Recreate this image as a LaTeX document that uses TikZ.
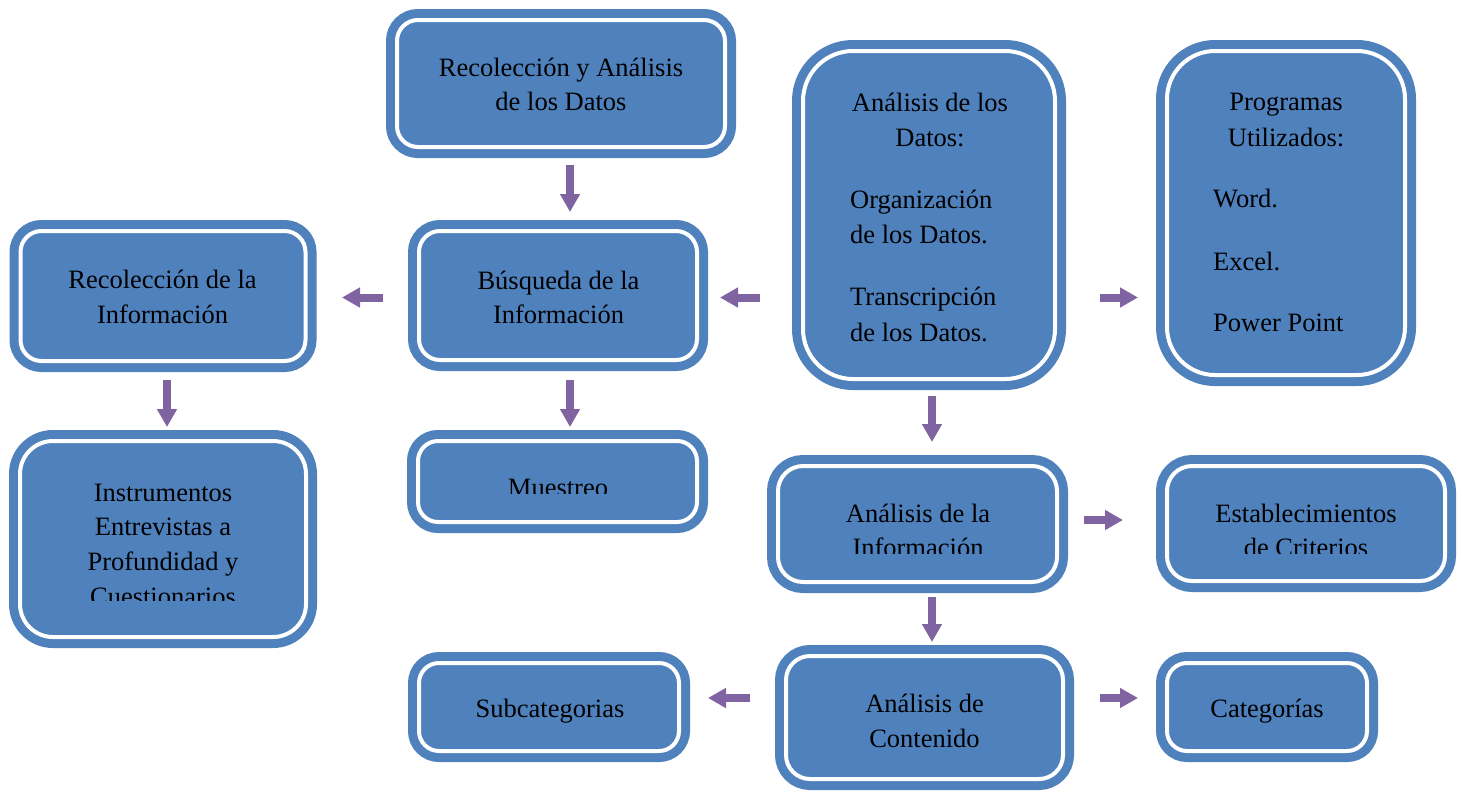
\documentclass[tikz,border=0pt]{standalone}
\usepackage{fontspec}
\setmainfont{Liberation Serif}
\usetikzlibrary{arrows.meta}
\definecolor{boxblue}{HTML}{4F81BD}
\definecolor{arrpurple}{HTML}{8064A2}
\begin{document}
\begin{tikzpicture}[x=1pt,y=-1pt,
  box/.style={rectangle, fill=boxblue, draw=boxblue, line width=9pt, double=white, double distance=4pt, inner sep=0pt, outer sep=0pt},
  txt/.style={anchor=base, font=\fontsize{26.5}{34}\selectfont, text=black, inner sep=0pt},
  arr/.style={draw=arrpurple, line width=8pt, -{Triangle[length=18pt,width=19pt]}}]
\fill[white] (0,0) rectangle (1462,793);
\useasboundingbox (0,0) rectangle (1462,793);

% boxes
\node[box, minimum width=328pt, minimum height=127pt, rounded corners=21pt] (b1) at (561,83.5) {};
\node[box, minimum width=278pt, minimum height=129pt, rounded corners=21pt] (b2) at (558,295.5) {};
\node[box, minimum width=285pt, minimum height=130pt, rounded corners=21pt] (b3) at (163,296) {};
\node[box, minimum width=286pt, minimum height=196pt, rounded corners=33pt] (b4) at (163,539) {};
\node[box, minimum width=279pt, minimum height=81pt, rounded corners=20pt] (b5) at (557.5,481.5) {};
\node[box, minimum width=252pt, minimum height=328pt, rounded corners=50pt] (b6) at (929,215) {};
\node[box, minimum width=238pt, minimum height=324pt, rounded corners=48pt] (b7) at (1286,213) {};
\node[box, minimum width=279pt, minimum height=116pt, rounded corners=25pt] (b8) at (917.5,524) {};
\node[box, minimum width=278pt, minimum height=115pt, rounded corners=25pt] (b9) at (1306,523.5) {};
\node[box, minimum width=277pt, minimum height=123pt, rounded corners=24pt] (b10) at (924.5,717.5) {};
\node[box, minimum width=260pt, minimum height=88pt, rounded corners=20pt] (b11) at (549,707) {};
\node[box, minimum width=200pt, minimum height=88pt, rounded corners=20pt] (b12) at (1267,707) {};

% texts
\node[txt] (t1a) at (561,76) {Recolección y Análisis};
\node[txt] (t1b) at (561,110) {de los Datos};
\node[txt] (t2a) at (558.5,289) {Búsqueda de la};
\node[txt] (t2b) at (558.5,323) {Información};
\node[txt] (t3a) at (162.5,288) {Recolección de la};
\node[txt] (t3b) at (162.5,323) {Información};
\begin{scope}
\clip (20,440) rectangle (306,600);
\node[txt] (t4a) at (163,501) {Instrumentos};
\node[txt] (t4b) at (163,535.5) {Entrevistas a};
\node[txt] (t4c) at (163,570) {Profundidad y};
\node[txt] (t4d) at (163,605) {Cuestionarios};
\end{scope}
\begin{scope}
\clip (420,440) rectangle (696,493);
\node[txt] (t5a) at (558,496) {Muestreo};
\end{scope}
\node[txt] (t6a) at (930,111) {Análisis de los};
\node[txt] (t6b) at (930,146) {Datos:};
\node[txt, anchor=base west] (t6c) at (850,208) {Organización};
\node[txt, anchor=base west] (t6d) at (850,243) {de los Datos.};
\node[txt, anchor=base west] (t6e) at (850,305) {Transcripción};
\node[txt, anchor=base west] (t6f) at (850,341) {de los Datos.};
\node[txt] (t7a) at (1286,110) {Programas};
\node[txt] (t7b) at (1286,146) {Utilizados:};
\node[txt, anchor=base west] (t7c) at (1213,207) {Word.};
\node[txt, anchor=base west] (t7d) at (1213,270) {Excel.};
\node[txt, anchor=base west] (t7e) at (1213,331) {Power Point};
\begin{scope}
\clip (780,465) rectangle (1056,553);
\node[txt] (t8a) at (918,522) {Análisis de la};
\node[txt] (t8b) at (918,556) {Información};
\end{scope}
\begin{scope}
\clip (1168,465) rectangle (1444,553);
\node[txt] (t9a) at (1306,522) {Establecimientos};
\node[txt] (t9b) at (1306,556) {de Criterios};
\end{scope}
\node[txt] (t10a) at (924.5,712) {Análisis de};
\node[txt] (t10b) at (924.5,747) {Contenido};
\node[txt] (t11) at (550,717) {Subcategorias};
\node[txt] (t12) at (1267,717) {Categorías};

% arrows
\draw[arr, shorten <=18pt, shorten >=19pt] ([xshift=9pt]b1.south) -- ([xshift=12pt]b2.north);
\draw[arr, shorten <=36pt, shorten >=36.5pt] ([yshift=-2pt]b2.west) -- ([yshift=-2pt]b2.west -| b3.east);
\draw[arr, shorten <=43pt, shorten >=23pt] ([yshift=-2pt]b2.east -| b6.west) -- ([yshift=-2pt]b2.east);
\draw[arr, shorten <=45pt, shorten >=29pt] ([yshift=-2pt]b2.east -| b6.east) -- ([yshift=-2pt]b2.east -| b7.west);
\draw[arr, shorten <=19pt, shorten >=14pt] ([xshift=4pt]b3.south) -- ([xshift=4pt]b3.south |- b4.north);
\draw[arr, shorten <=20pt, shorten >=14pt] ([xshift=12pt]b2.south) -- ([xshift=12pt]b2.south |- b5.north);
\draw[arr, shorten <=17pt, shorten >=24pt] ([xshift=3pt]b6.south) -- ([xshift=3pt]b6.south |- b8.north);
\draw[arr, shorten <=27pt, shorten >=44pt] ([yshift=4pt]b8.east) -- ([yshift=4pt]b8.east -| b9.west);
\draw[arr, shorten <=15pt, shorten >=14pt] ([xshift=14.5pt]b8.south) -- ([xshift=14.5pt]b8.south |- b10.north);
\draw[arr, shorten <=36pt, shorten >=29pt] ([yshift=19.5pt]b10.west) -- ([yshift=19.5pt]b10.west -| b11.east);
\draw[arr, shorten <=37pt, shorten >=29pt] ([yshift=19.5pt]b10.east) -- ([yshift=19.5pt]b10.east -| b12.west);
\end{tikzpicture}
\end{document}
